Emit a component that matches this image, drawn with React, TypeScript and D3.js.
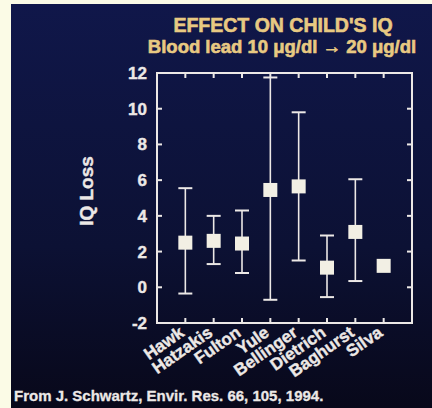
import React from 'react';
import * as d3 from 'd3';

const studies = ['Hawk', 'Hatzakis', 'Fulton', 'Yule', 'Bellinger', 'Dietrich', 'Baghurst', 'Silva'];
const iqLoss = [2.5, 2.6, 2.45, 5.45, 5.65, 1.1, 3.1, 1.2];
const upper = [5.55, 4.0, 4.3, 11.75, 9.8, 2.9, 6.05, null];
const lower = [-0.35, 1.3, 0.8, -0.7, 1.5, -0.55, 0.35, null];
const yTicks = [-2, 0, 2, 4, 6, 8, 10, 12];

const W = 432;
const H = 408;
const plot = { left: 157, right: 412, top: 73, bottom: 323 };

const App: React.FC = () => {
    const x = d3.scalePoint<string>().domain(studies).range([plot.left, plot.right]).padding(1);
    const y = d3.scaleLinear().domain([-2, 12]).range([plot.bottom, plot.top]);

    const white = '#ece8e6';
    const gold = '#e8c982';
    const font = '"Liberation Sans", Arial, sans-serif';
    const tickLen = 5;
    const box = 14;
    const cap = 14;

    return (
        <svg width={W} height={H} style={{ position: 'absolute', left: 0, top: 0 }} fontFamily={font} fontWeight="bold">
            <defs>
                <linearGradient id="bg" x1="0" y1="0" x2="0" y2="1">
                    <stop offset="0" stopColor="#10174a" />
                    <stop offset="0.6" stopColor="#0c1134" />
                    <stop offset="1" stopColor="#08081a" />
                </linearGradient>
            </defs>
            <rect width={W} height={H} fill="#fbfbe6" />
            <rect x={11} y={4} width={W - 11} height={H - 4} fill="url(#bg)" />

            {/* title */}
            <g fill={gold} stroke={gold} strokeWidth={0.6} textAnchor="middle">
                <text x={283} y={32} fontSize={19.5}>EFFECT ON CHILD'S IQ</text>
                <text x={282} y={53} fontSize={18.5}>Blood lead 10 μg/dl → 20 μg/dl</text>
            </g>

            {/* frame */}
            <rect x={plot.left} y={plot.top} width={plot.right - plot.left} height={plot.bottom - plot.top}
                fill="none" stroke={white} strokeWidth={2} />

            {yTicks.map(t => (
                <g key={'y' + t}>
                    <line x1={plot.left} x2={plot.left + tickLen} y1={y(t)} y2={y(t)} stroke={white} strokeWidth={2} />
                    <line x1={plot.right} x2={plot.right - tickLen} y1={y(t)} y2={y(t)} stroke={white} strokeWidth={2} />
                    <text x={147} y={y(t) + 6} fill={white} stroke={white} strokeWidth={0.4} fontSize={17} textAnchor="end">{t}</text>
                </g>
            ))}

            {studies.map(s => (
                <g key={'x' + s}>
                    <line x1={x(s)} x2={x(s)} y1={plot.top} y2={plot.top + tickLen} stroke={white} strokeWidth={2} />
                    <line x1={x(s)} x2={x(s)} y1={plot.bottom} y2={plot.bottom - tickLen} stroke={white} strokeWidth={2} />
                    <text transform={`translate(${(x(s) ?? 0)},${plot.bottom + 12}) rotate(-35)`}
                        fill={white} stroke={white} strokeWidth={0.4} fontSize={17} textAnchor="end">{s}</text>
                </g>
            ))}

            <text transform={`translate(93,191) rotate(-90)`} fill={white} stroke={white} strokeWidth={0.4}
                fontSize={19} textAnchor="middle">IQ Loss</text>

            {/* error bars and means */}
            {studies.map((s, i) => {
                const cx = x(s) ?? 0;
                const hi = upper[i];
                const lo = lower[i];
                return (
                    <g key={'d' + s} stroke={white} strokeWidth={1.6}>
                        {hi !== null && lo !== null && (
                            <>
                                <line x1={cx} x2={cx} y1={y(hi)} y2={y(lo)} />
                                <line x1={cx - cap / 2} x2={cx + cap / 2} y1={y(hi)} y2={y(hi)} strokeWidth={2} />
                                <line x1={cx - cap / 2} x2={cx + cap / 2} y1={y(lo)} y2={y(lo)} strokeWidth={2} />
                            </>
                        )}
                        <rect x={cx - box / 2} y={y(iqLoss[i]) - box / 2} width={box} height={box} fill="#f2efe4" stroke="none" />
                    </g>
                );
            })}

            <text x={14} y={401} fill={white} stroke={white} strokeWidth={0.3} fontSize={15}>
                From J. Schwartz, Envir. Res. 66, 105, 1994.
            </text>
        </svg>
    );
};

export default App;
